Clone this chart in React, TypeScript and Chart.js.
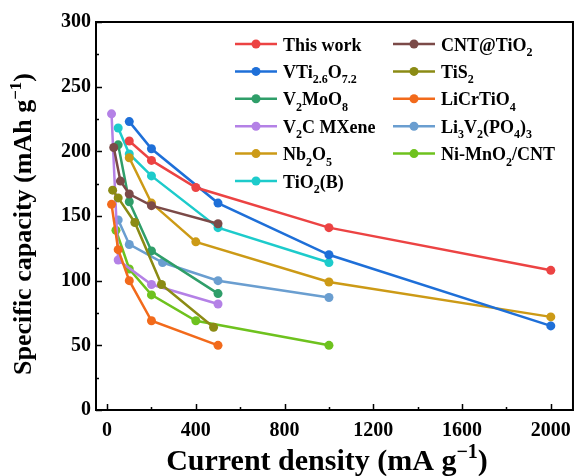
import { useEffect, useRef } from "react";
import { Chart, registerables } from "chart.js";

Chart.register(...registerables);

// ---- data ----
const seriesNames = [
  "This work",
  "CNT@TiO_{2}",
  "VTi_{2.6}O_{7.2}",
  "TiS_{2}",
  "V_{2}MoO_{8}",
  "LiCrTiO_{4}",
  "V_{2}C MXene",
  "Li_{3}V_{2}(PO_{4})_{3}",
  "Nb_{2}O_{5}",
  "Ni-MnO_{2}/CNT",
  "TiO_{2}(B)",
];
const seriesColors = [
  "#EC4343",
  "#7B4A48",
  "#1E6FD8",
  "#8B8B14",
  "#2F9E69",
  "#F26A1B",
  "#B481E6",
  "#6A9ED0",
  "#CC9A16",
  "#6EC21E",
  "#1DCBCB",
];

const thisWorkX = [100, 200, 400, 1000, 2000];
const thisWorkY = [208, 193, 172, 141, 108];
const cntTiO2X = [30, 60, 100, 200, 500];
const cntTiO2Y = [203, 177, 167, 158, 144];
const vtiX = [100, 200, 500, 1000, 2000];
const vtiY = [223, 202, 160, 120, 65];
const tiS2X = [25, 50, 125, 245, 480];
const tiS2Y = [170, 164, 145, 97, 64];
const v2moo8X = [50, 100, 200, 500];
const v2moo8Y = [205, 161, 123, 90];
const licrtio4X = [20, 50, 100, 200, 500];
const licrtio4Y = [159, 124, 100, 69, 50];
const v2cX = [20, 50, 200, 500];
const v2cY = [229, 116, 97, 82];
const lvpX = [50, 100, 250, 500, 1000];
const lvpY = [147, 128, 114, 100, 87];
const nb2o5X = [100, 200, 400, 1000, 2000];
const nb2o5Y = [195, 160, 130, 99, 72];
const nimno2X = [40, 100, 200, 400, 1000];
const nimno2Y = [139, 109, 89, 69, 50];
const tio2bX = [50, 100, 200, 500, 1000];
const tio2bY = [218, 198, 181, 141, 114];

const seriesX = [thisWorkX, cntTiO2X, vtiX, tiS2X, v2moo8X, licrtio4X, v2cX, lvpX, nb2o5X, nimno2X, tio2bX];
const seriesY = [thisWorkY, cntTiO2Y, vtiY, tiS2Y, v2moo8Y, licrtio4Y, v2cY, lvpY, nb2o5Y, nimno2Y, tio2bY];

const xTickValues = [0, 400, 800, 1200, 1600, 2000];
const xMinorValues = [200, 600, 1000, 1400, 1800];
const yTickValues = [0, 50, 100, 150, 200, 250, 300];
const yMinorValues = [25, 75, 125, 175, 225, 275];

const xTitle = "Current density (mA g^{−1})";
const yTitle = "Specific capacity (mAh g^{−1})";

const FAMILY = "'Liberation Serif', 'Times New Roman', serif";

type Seg = { t: string; k: "n" | "sub" | "sup" };
function parseRich(s: string): Seg[] {
  const out: Seg[] = [];
  const re = /([_^])\{([^}]*)\}/g;
  let last = 0;
  let m: RegExpExecArray | null;
  while ((m = re.exec(s))) {
    if (m.index > last) out.push({ t: s.slice(last, m.index), k: "n" });
    out.push({ t: m[2], k: m[1] === "_" ? "sub" : "sup" });
    last = re.lastIndex;
  }
  if (last < s.length) out.push({ t: s.slice(last), k: "n" });
  return out;
}
function segFont(seg: Seg, size: number) {
  const s = seg.k === "n" ? size : Math.round(size * 0.66);
  return `bold ${s}px ${FAMILY}`;
}
function richWidth(ctx: CanvasRenderingContext2D, segs: Seg[], size: number) {
  let w = 0;
  for (const seg of segs) {
    ctx.font = segFont(seg, size);
    w += ctx.measureText(seg.t).width;
  }
  return w;
}
function drawRich(ctx: CanvasRenderingContext2D, segs: Seg[], x: number, y: number, size: number) {
  ctx.textBaseline = "alphabetic";
  ctx.textAlign = "left";
  for (const seg of segs) {
    ctx.font = segFont(seg, size);
    const dy = seg.k === "sub" ? size * 0.3 : seg.k === "sup" ? -size * 0.4 : 0;
    ctx.fillText(seg.t, x, y + dy);
    x += ctx.measureText(seg.t).width;
  }
}

const decorPlugin = {
  id: "decor",
  afterDraw(chart: any) {
    const ctx: CanvasRenderingContext2D = chart.ctx;
    const { left, right, top, bottom } = chart.chartArea;
    const xs = chart.scales.x;
    const ys = chart.scales.y;
    ctx.save();
    ctx.strokeStyle = "#000";
    ctx.fillStyle = "#000";
    // ticks (inward)
    ctx.lineWidth = 1.5;
    ctx.beginPath();
    for (const v of xTickValues) {
      const px = Math.round(xs.getPixelForValue(v)) + 0.5;
      ctx.moveTo(px, bottom);
      ctx.lineTo(px, bottom - 6);
    }
    for (const v of xMinorValues) {
      const px = Math.round(xs.getPixelForValue(v)) + 0.5;
      ctx.moveTo(px, bottom);
      ctx.lineTo(px, bottom - 3);
    }
    for (const v of yTickValues) {
      const py = Math.round(ys.getPixelForValue(v)) + 0.5;
      ctx.moveTo(left, py);
      ctx.lineTo(left + 6, py);
    }
    for (const v of yMinorValues) {
      const py = Math.round(ys.getPixelForValue(v)) + 0.5;
      ctx.moveTo(left, py);
      ctx.lineTo(left + 3, py);
    }
    ctx.stroke();
    // frame
    ctx.lineWidth = 2;
    ctx.strokeRect(left, top, right - left, bottom - top);

    // legend
    const rowY0 = top + 22;
    const rowStep = 27.4;
    const cols = [left + 139, left + 297];
    const legendSize = 18;
    chart.data.datasets.forEach((ds: any, i: number) => {
      const col = i % 2;
      const row = Math.floor(i / 2);
      const x0 = cols[col];
      const yc = rowY0 + row * rowStep;
      ctx.strokeStyle = ds.borderColor;
      ctx.fillStyle = ds.borderColor;
      ctx.lineWidth = 2.5;
      ctx.beginPath();
      ctx.moveTo(x0, yc);
      ctx.lineTo(x0 + 42, yc);
      ctx.stroke();
      ctx.beginPath();
      ctx.arc(x0 + 21, yc, 4.5, 0, Math.PI * 2);
      ctx.fill();
      ctx.fillStyle = "#000";
      drawRich(ctx, parseRich(seriesNames[i]), x0 + 48, yc + 6.5, legendSize);
    });

    // axis titles
    ctx.fillStyle = "#000";
    const xt = parseRich(xTitle);
    const xSize = 30;
    const xw = richWidth(ctx, xt, xSize);
    drawRich(ctx, xt, 327 - xw / 2, 470, xSize);

    const yt = parseRich(yTitle);
    const ySize = 26;
    const yw = richWidth(ctx, yt, ySize);
    ctx.translate(31, 224);
    ctx.rotate(-Math.PI / 2);
    drawRich(ctx, yt, -yw / 2, 0, ySize);
    ctx.restore();
  },
};

export default function App() {
  const ref = useRef<HTMLCanvasElement | null>(null);
  useEffect(() => {
    if (!ref.current) return;
    const datasets = seriesNames.map((name, i) => ({
      label: name.replace(/[_^]\{([^}]*)\}/g, "$1"),
      data: seriesX[i].map((x, j) => ({ x, y: seriesY[i][j] })),
      borderColor: seriesColors[i],
      backgroundColor: seriesColors[i],
      pointBackgroundColor: seriesColors[i],
      pointBorderColor: seriesColors[i],
      borderWidth: 2.5,
      pointRadius: 4.5,
      pointBorderWidth: 0,
      tension: 0,
      showLine: true,
    }));
    const chart = new Chart(ref.current, {
      type: "scatter",
      data: { datasets },
      options: {
        animation: false,
        responsive: true,
        maintainAspectRatio: false,
        layout: { padding: { top: 22, right: 1, left: 0, bottom: 0 } },
        plugins: { legend: { display: false }, tooltip: { enabled: false } },
        scales: {
          x: {
            type: "linear",
            min: -50,
            max: 2100,
            grid: { display: false, drawTicks: false },
            border: { display: false },
            afterBuildTicks: (s: any) => {
              s.ticks = xTickValues.map((v) => ({ value: v }));
            },
            afterFit: (s: any) => {
              s.height = 66;
            },
            ticks: {
              padding: 9,
              maxRotation: 0,
              color: "#000",
              font: { family: FAMILY, size: 20, weight: "bold" },
              callback: (v: any) => String(v),
            },
          },
          y: {
            type: "linear",
            min: 0,
            max: 300,
            grid: { display: false, drawTicks: false },
            border: { display: false },
            afterBuildTicks: (s: any) => {
              s.ticks = yTickValues.map((v) => ({ value: v }));
            },
            afterFit: (s: any) => {
              s.width = 96;
            },
            ticks: {
              padding: 5,
              color: "#000",
              font: { family: FAMILY, size: 20, weight: "bold" },
              callback: (v: any) => String(v),
            },
          },
        },
      },
      plugins: [decorPlugin],
    });
    return () => chart.destroy();
  }, []);
  return (
    <div style={{ position: "fixed", left: 0, top: 0, width: 580, height: 476, background: "#fff" }}>
      <canvas ref={ref} />
    </div>
  );
}
